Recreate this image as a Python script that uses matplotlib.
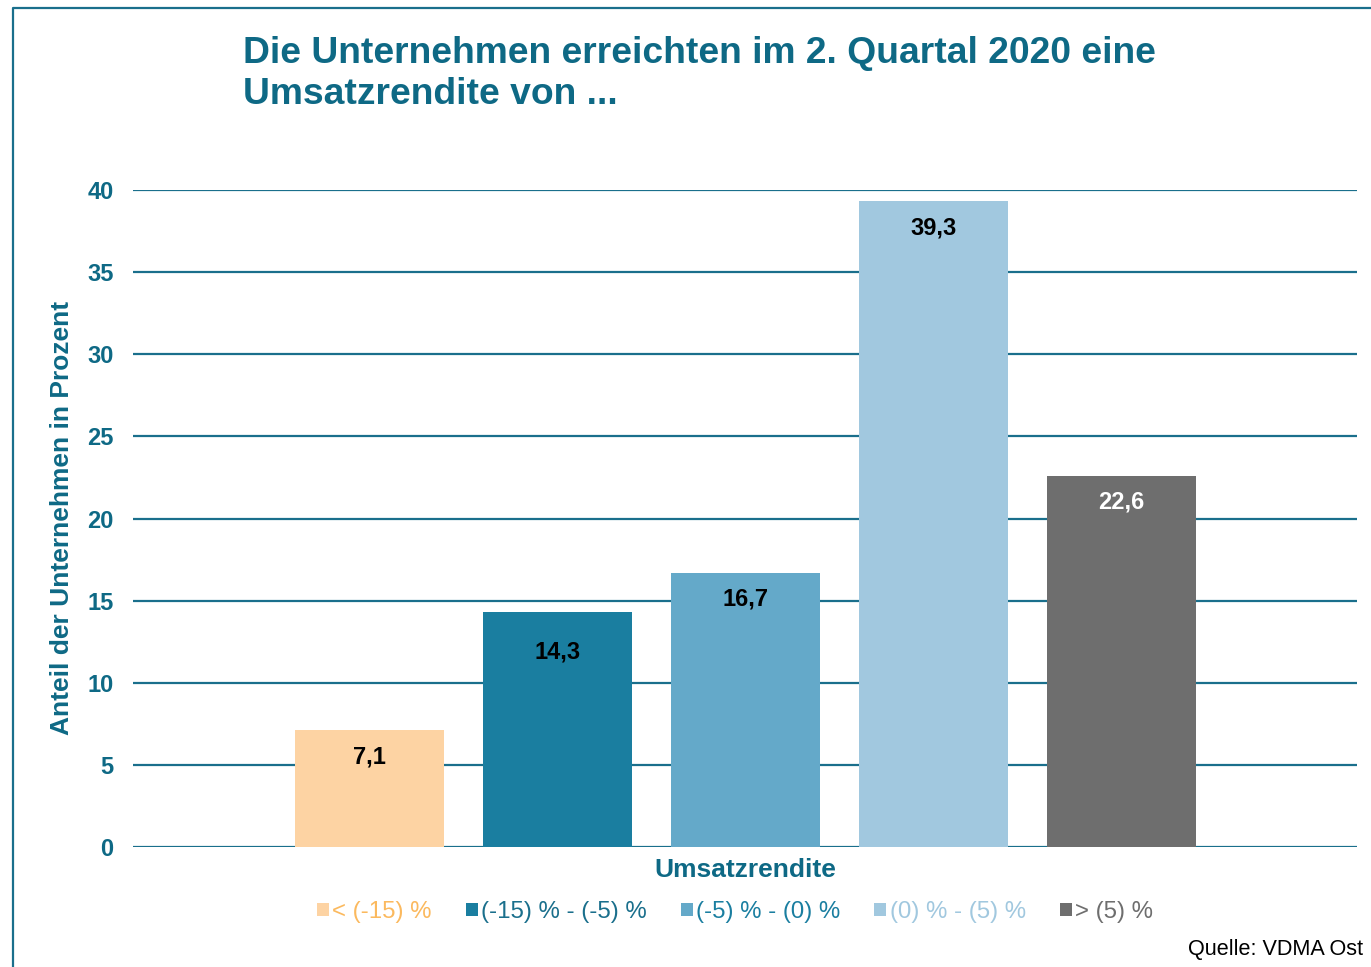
import matplotlib.pyplot as plt
from matplotlib.lines import Line2D
from matplotlib.patches import Patch

plt.rcParams['font.family'] = ['Liberation Sans', 'DejaVu Sans']

categories = ["< (-15) %", "(-15) % - (-5) %", "(-5) % - (0) %", "(0) % - (5) %", "> (5) %"]
values = [7.1, 14.3, 16.7, 39.3, 22.6]
value_labels = ["7,1", "14,3", "16,7", "39,3", "22,6"]
colors = ["#FDD3A3", "#1A7EA0", "#64A9C9", "#A1C8DF", "#6E6E6E"]
label_colors = ["black", "black", "black", "black", "white"]
legend_text_colors = ["#FBB95E", "#1A6F8C", "#1A7EA0", "#A1C8DF", "#6E6E6E"]

teal = "#0E6985"
W, H = 1371, 967

fig = plt.figure(figsize=(W / 100, H / 100), dpi=100)
ax = fig.add_axes([133 / W, (H - 847) / H, 1224 / W, 657 / H])

x = list(range(len(values)))
ax.bar(x, values, width=149 / 188, color=colors, zorder=3)
# label offsets below bar top (in data units)
offsets = [1.6, 2.4, 1.6, 1.6, 1.6]
for xi, v, lab, c, off in zip(x, values, value_labels, label_colors, offsets):
    ax.text(xi, v - off, lab, ha="center", va="center", fontsize=17,
            fontweight="bold", color=c, zorder=4)

ax.set_xlim(-236.5 / 188, 987.5 / 188)
ax.set_ylim(0, 40)
ax.set_yticks(range(0, 41, 5))
ax.yaxis.grid(True, color="#1A6F8C", linewidth=1.6, zorder=1)
ax.set_axisbelow(True)
ax.set_xticks([])
ax.tick_params(axis="y", length=0, pad=14, labelsize=17, labelcolor=teal)
for t in ax.get_yticklabels():
    t.set_fontweight("bold")
for s in ax.spines.values():
    s.set_visible(False)

ax.set_xlabel("Umsatzrendite", fontsize=19, fontweight="bold", color=teal, labelpad=8)
fig.text(62 / W, 1 - 518 / H, "Anteil der Unternehmen in Prozent", rotation=90,
         ha="center", va="center", fontsize=19, fontweight="bold", color=teal)

fig.text(243 / W, 1 - 74 / H, "Die Unternehmen erreichten im 2. Quartal 2020 eine\nUmsatzrendite von ...",
         ha="left", va="center", fontsize=26.8, fontweight="bold", color=teal,
         linespacing=1.2)

handles = [Patch(facecolor=c, edgecolor="none") for c in colors]
leg = fig.legend(handles, categories, loc="center", bbox_to_anchor=(735 / W, 1 - 912 / H),
                 ncol=5, frameon=False, fontsize=17.3, handlelength=0.5, handleheight=0.5,
                 handletextpad=0.15, columnspacing=1.4, labelcolor=legend_text_colors)

fig.text(1363 / W, 1 - 950 / H, "Quelle: VDMA Ost", ha="right", va="center",
         fontsize=15.6, color="black")

fig.add_artist(Line2D([13 / W, 13 / W, 1], [0, 1 - 8 / H, 1 - 8 / H],
                      transform=fig.transFigure, color="#1A6F8C", linewidth=1.6))

fig.savefig("out.png", dpi=100)
